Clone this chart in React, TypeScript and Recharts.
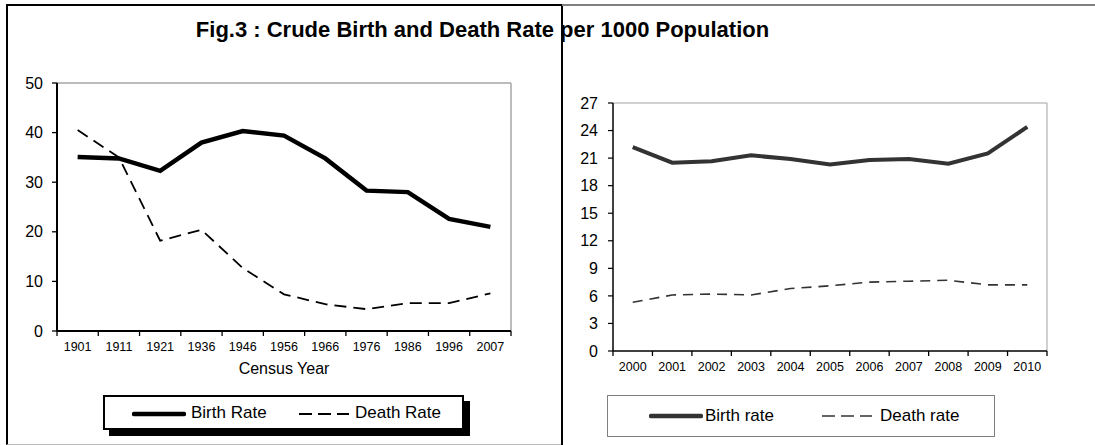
import React from "react";
import { LineChart, Line, XAxis, YAxis, Label, ReferenceLine } from "recharts";

const censusYears = ["1901", "1911", "1921", "1936", "1946", "1956", "1966", "1976", "1986", "1996", "2007"];
const censusBirth = [35.1, 34.8, 32.3, 38.0, 40.3, 39.4, 34.8, 28.3, 28.0, 22.6, 21.0];
const censusDeath = [40.5, 35.0, 18.2, 20.4, 12.7, 7.4, 5.4, 4.4, 5.6, 5.6, 7.6];
const leftTicks = [0, 10, 20, 30, 40, 50];

const srsYears = ["2000", "2001", "2002", "2003", "2004", "2005", "2006", "2007", "2008", "2009", "2010"];
const srsBirth = [22.2, 20.5, 20.65, 21.3, 20.9, 20.3, 20.8, 20.9, 20.4, 21.5, 24.4];
const srsDeath = [5.3, 6.1, 6.2, 6.1, 6.8, 7.1, 7.5, 7.6, 7.7, 7.2, 7.2];
const rightTicks = [0, 3, 6, 9, 12, 15, 18, 21, 24, 27];

const FONT = '"Liberation Sans", Arial, sans-serif';

const leftData = censusYears.map((year, i) => ({ year, birth: censusBirth[i], death: censusDeath[i] }));
const rightData = srsYears.map((year, i) => ({ year, birth: srsBirth[i], death: srsDeath[i] }));

// tick marks between categories, like Excel's category axis
function makeTick(bandWidth: number, axisY: number, count: number, color: string) {
  return (props: any) => {
    const { x, payload, index } = props;
    const left = x - bandWidth / 2;
    return (
      <g>
        <line x1={left} x2={left} y1={axisY} y2={axisY + 5} stroke={color} strokeWidth={1.3} />
        {index === count - 1 && (
          <line x1={x + bandWidth / 2} x2={x + bandWidth / 2} y1={axisY} y2={axisY + 5} stroke={color} strokeWidth={1.3} />
        )}
        <text x={x} y={axisY + 20} textAnchor="middle" fontSize={12.5} fontFamily={FONT} fill="#000">
          {payload.value}
        </text>
      </g>
    );
  };
}

function LegendSample({ dashed, color, width }: { dashed?: boolean; color: string; width: number }) {
  return (
    <svg width={54} height={10} style={{ display: "block" }}>
      <line
        x1={2}
        x2={52}
        y1={5}
        y2={5}
        stroke={color}
        strokeWidth={width}
        strokeLinecap={dashed ? "butt" : "round"}
        strokeDasharray={dashed ? "13 6" : undefined}
      />
    </svg>
  );
}

export default function App() {
  // left plot: x 57..511, y 83..331 ; right plot: x 613..1047, y 103..351
  const leftBand = (511 - 57) / censusYears.length;
  const rightBand = (1047 - 613) / srsYears.length;

  return (
    <div style={{ position: "absolute", left: 0, top: 0, width: 1095, height: 445, background: "#fff", fontFamily: FONT }}>
      {/* frames */}
      <div style={{ position: "absolute", left: 6, top: 4, width: 555, height: 438, borderLeft: "2px solid #000", borderTop: "2px solid #000", borderBottom: "1.5px solid #bbb" }} />
      <div style={{ position: "absolute", left: 561, top: 4, width: 1.5, height: 441, background: "#000" }} />
      <div style={{ position: "absolute", left: 562, top: 4, width: 533, height: 2, background: "#808080" }} />

      <div style={{ position: "absolute", left: 0, top: 18, width: 965, textAlign: "center", fontSize: 22, fontWeight: "bold", lineHeight: "24px" }}>
        Fig.3 : Crude Birth and Death Rate per 1000 Population
      </div>

      {/* left chart */}
      <div style={{ position: "absolute", left: 0, top: 0 }}>
        <LineChart width={562} height={445} data={leftData} margin={{ top: 83, right: 51, bottom: 69, left: 0 }}>
          <XAxis
            dataKey="year"
            scale="band"
            height={45}
            tickLine={false}
            tickSize={5}
            tickMargin={6}
            axisLine={{ stroke: "#000", strokeWidth: 2 }}
            interval={0}
            tick={makeTick(leftBand, 331, censusYears.length, "#000")}
          >
            <Label value="Census Year" position="insideBottom" offset={2} style={{ fontSize: 16, fontFamily: FONT, fill: "#000" }} />
          </XAxis>
          <YAxis
            width={57}
            domain={[0, 50]}
            ticks={leftTicks}
            tickSize={5}
            tickMargin={9}
            interval={0}
            axisLine={{ stroke: "#000", strokeWidth: 2 }}
            tickLine={{ stroke: "#000", strokeWidth: 1.3 }}
            tick={{ fontSize: 16, fontFamily: FONT, fill: "#000" }}
          />
          <ReferenceLine y={50} stroke="#a6a6a6" strokeWidth={1.5} />
          <ReferenceLine x="2007" position="end" stroke="#a6a6a6" strokeWidth={1.5} />
          <Line dataKey="death" stroke="#000" strokeWidth={1.8} strokeDasharray="12 7" dot={false} isAnimationActive={false} />
          <Line dataKey="birth" stroke="#000" strokeWidth={4.5} dot={false} isAnimationActive={false} />
        </LineChart>
      </div>

      {/* right chart */}
      <div style={{ position: "absolute", left: 562, top: 0 }}>
        <LineChart width={533} height={445} data={rightData} margin={{ top: 103, right: 48, bottom: 64, left: 0 }}>
          <XAxis
            dataKey="year"
            scale="band"
            height={30}
            tickLine={false}
            tickSize={5}
            tickMargin={6}
            axisLine={{ stroke: "#000", strokeWidth: 1.5 }}
            interval={0}
            tick={makeTick(rightBand, 351, srsYears.length, "#000")}
          />
          <YAxis
            width={51}
            domain={[0, 27]}
            ticks={rightTicks}
            tickSize={5}
            tickMargin={10}
            interval={0}
            axisLine={{ stroke: "#000", strokeWidth: 1.5 }}
            tickLine={{ stroke: "#000", strokeWidth: 1.2 }}
            tick={{ fontSize: 16, fontFamily: FONT, fill: "#000" }}
          />
          <ReferenceLine y={27} stroke="#c0c0c0" strokeWidth={1.5} />
          <ReferenceLine x="2010" position="end" stroke="#c0c0c0" strokeWidth={1.5} />
          <Line dataKey="death" stroke="#333" strokeWidth={1.6} strokeDasharray="10 7" dot={false} isAnimationActive={false} />
          <Line dataKey="birth" stroke="#333" strokeWidth={4} dot={false} isAnimationActive={false} />
        </LineChart>
      </div>

      {/* left legend */}
      <div style={{ position: "absolute", left: 109, top: 401, width: 361, height: 35, background: "#000" }} />
      <div style={{ position: "absolute", left: 103, top: 395, width: 357, height: 31, border: "2px solid #000", background: "#fff", fontSize: 17 }}>
        <div style={{ position: "absolute", left: 27, top: 12 }}>
          <LegendSample color="#000" width={4.5} />
        </div>
        <span style={{ position: "absolute", left: 86, top: 6, lineHeight: "20px" }}>Birth Rate</span>
        <div style={{ position: "absolute", left: 192, top: 12 }}>
          <LegendSample dashed color="#000" width={1.8} />
        </div>
        <span style={{ position: "absolute", left: 250, top: 6, lineHeight: "20px" }}>Death Rate</span>
      </div>

      {/* right legend */}
      <div style={{ position: "absolute", left: 607, top: 395, width: 386, height: 40, border: "1.5px solid #808080", background: "#fff", fontSize: 17 }}>
        <div style={{ position: "absolute", left: 41, top: 15 }}>
          <LegendSample color="#333" width={4.5} />
        </div>
        <span style={{ position: "absolute", left: 97, top: 10, lineHeight: "20px" }}>Birth rate</span>
        <div style={{ position: "absolute", left: 212, top: 15 }}>
          <LegendSample dashed color="#333" width={1.6} />
        </div>
        <span style={{ position: "absolute", left: 272, top: 10, lineHeight: "20px" }}>Death rate</span>
      </div>
    </div>
  );
}
